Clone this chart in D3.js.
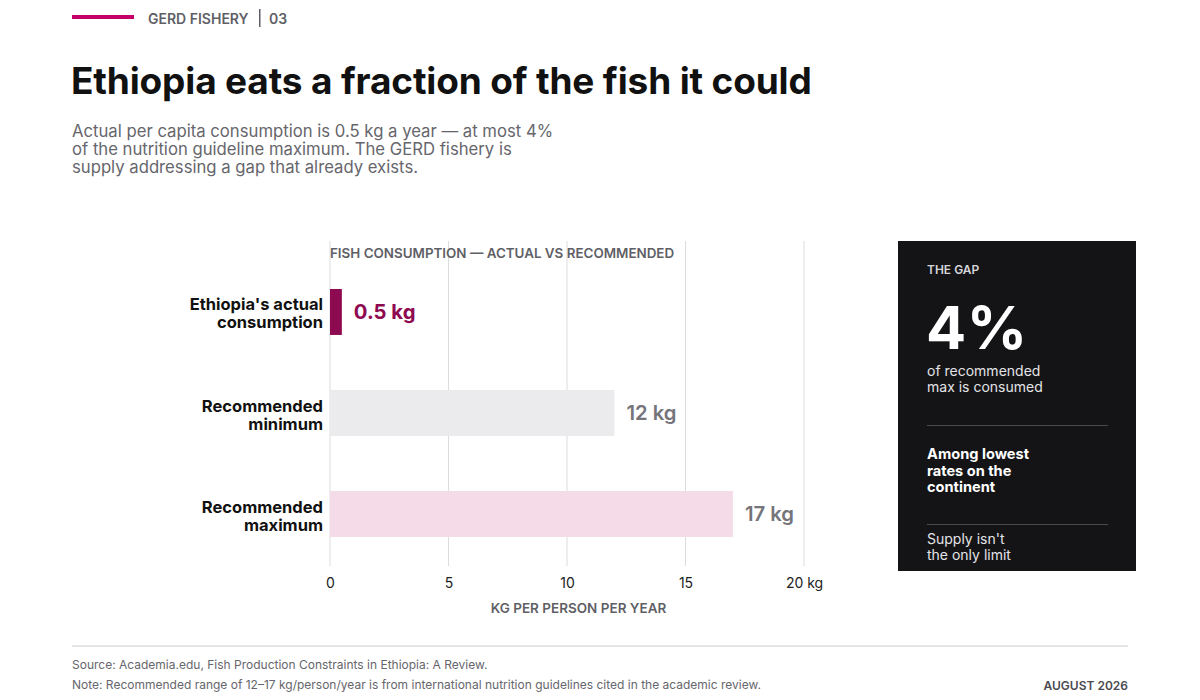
<!DOCTYPE html>
<html><head><meta charset="utf-8">
<script src="https://cdn.jsdelivr.net/npm/d3@7"></script>
<style>
html,body{margin:0;padding:0;background:#fff;}
svg{display:block;font-family:Inter,"Noto Sans",sans-serif;}
</style></head>
<body>
<svg id="c" width="1200" height="700"></svg>
<script>
const categories = [["Ethiopia's actual","consumption"],["Recommended","minimum"],["Recommended","maximum"]];
const values = [0.5, 12, 17];
const valueLabels = ["0.5 kg","12 kg","17 kg"];
const tickValues = [0, 5, 10, 15, 20];
const tickLabels = ["0","5","10","15","20 kg"];
const barColors = ["#8e0a50","#ebebed","#f4dbe7"];
const labelColors = ["#8e0a50","#74747a","#74747a"];

const svg = d3.select("#c");

// Header
svg.append("rect").attr("x",72).attr("y",15).attr("width",62).attr("height",4).attr("fill","#c4006a");
svg.append("text").attr("x",148).attr("y",24).attr("font-size",14).attr("font-weight",600).attr("fill","#5f5f66")
  .text("GERD FISHERY");
svg.append("rect").attr("x",259).attr("y",9).attr("width",1.5).attr("height",18).attr("fill","#5f5f66");
svg.append("text").attr("x",269).attr("y",24).attr("font-size",14).attr("font-weight",600).attr("fill","#5f5f66").text("03");

svg.append("text").attr("x",71).attr("y",94).attr("font-size",37).attr("font-weight",700).attr("fill","#111")
  .attr("letter-spacing","-0.15").text("Ethiopia eats a fraction of the fish it could");

const sub = ["Actual per capita consumption is 0.5 kg a year — at most 4%","of the nutrition guideline maximum. The GERD fishery is","supply addressing a gap that already exists."];
svg.append("g").selectAll("text").data(sub).join("text")
  .attr("x",72).attr("y",(d,i)=>137+i*17.8).attr("font-size",16.7).attr("fill","#66666c").text(d=>d);

// Chart
const x = d3.scaleLinear().domain([0,20]).range([330,804]);
const y = d3.scaleBand().domain(d3.range(values.length)).range([241,585]).paddingInner(0.545).paddingOuter(0.475);
const gridTop = 241, gridBottom = 566;

svg.append("g").selectAll("line").data(tickValues).join("line")
  .attr("x1",d=>x(d)).attr("x2",d=>x(d)).attr("y1",gridTop).attr("y2",gridBottom)
  .attr("stroke","#dcdcde").attr("stroke-width",1);

svg.append("text").attr("x",330).attr("y",258).attr("font-size",13.4).attr("font-weight",600).attr("fill","#5f5f66")
  .text("FISH CONSUMPTION — ACTUAL VS RECOMMENDED");

svg.append("g").selectAll("rect").data(values).join("rect")
  .attr("x",x(0)).attr("y",(d,i)=>y(i)).attr("width",d=>x(d)-x(0)).attr("height",y.bandwidth())
  .attr("fill",(d,i)=>barColors[i]);

svg.append("g").selectAll("text").data(values).join("text")
  .attr("x",d=>x(d)+12).attr("y",(d,i)=>y(i)+y.bandwidth()/2+7).attr("font-size",20.3)
  .attr("font-weight",(d,i)=>i===0?700:600).attr("fill",(d,i)=>labelColors[i]).text((d,i)=>valueLabels[i]);

const cat = svg.append("g").selectAll("text").data(categories).join("text")
  .attr("text-anchor","end").attr("font-size",16.5).attr("font-weight",700).attr("fill","#111");
cat.each(function(d,i){
  const t = d3.select(this);
  d.forEach((line,j)=>{
    t.append("tspan").attr("x",323).attr("y",y(i)+y.bandwidth()/2 - 1.5 + j*18).text(line);
  });
});

const axis = d3.axisBottom(x).tickValues(tickValues).tickSize(0).tickPadding(0).tickFormat((d,i)=>tickLabels[i]);
const ag = svg.append("g").attr("transform",`translate(0,${588})`).call(axis);
ag.select(".domain").remove();
ag.selectAll("text").attr("font-size",14).attr("fill","#222").attr("font-family","Inter,'Noto Sans',sans-serif").attr("dy",0);

svg.append("text").attr("x",578.5).attr("y",613).attr("text-anchor","middle").attr("font-size",13.5).attr("font-weight",600)
  .attr("fill","#5f5f66").text("KG PER PERSON PER YEAR");

// Dark panel
const px = 898, py = 241;
svg.append("rect").attr("x",px).attr("y",py).attr("width",238).attr("height",330).attr("fill","#141416");
svg.append("text").attr("x",927).attr("y",274).attr("font-size",12).attr("font-weight",600).attr("fill","#d6d6da").text("THE GAP");
svg.append("text").attr("x",926).attr("y",348.5).attr("font-size",59.5).attr("font-weight",700).attr("letter-spacing","0.5").attr("fill","#fff").text("4%");
svg.append("g").selectAll("text").data(["of recommended","max is consumed"]).join("text")
  .attr("x",927).attr("y",(d,i)=>376+i*16).attr("font-size",14).attr("fill","#e4e4e8").text(d=>d);
svg.append("line").attr("x1",927).attr("x2",1108).attr("y1",425.5).attr("y2",425.5).attr("stroke","#4a4a4f");
svg.append("g").selectAll("text").data(["Among lowest","rates on the","continent"]).join("text")
  .attr("x",927).attr("y",(d,i)=>459+i*16.5).attr("font-size",14.6).attr("font-weight",700).attr("fill","#fff").text(d=>d);
svg.append("line").attr("x1",927).attr("x2",1108).attr("y1",524.5).attr("y2",524.5).attr("stroke","#4a4a4f");
svg.append("g").selectAll("text").data(["Supply isn't","the only limit"]).join("text")
  .attr("x",927).attr("y",(d,i)=>544+i*16).attr("font-size",14).attr("fill","#e4e4e8").text(d=>d);

// Footer
svg.append("line").attr("x1",72).attr("x2",1128).attr("y1",646).attr("y2",646).attr("stroke","#dcdcde").attr("stroke-width",1.5);
svg.append("text").attr("x",72).attr("y",669).attr("font-size",12).attr("fill","#66666c")
  .text("Source: Academia.edu, Fish Production Constraints in Ethiopia: A Review.");
svg.append("text").attr("x",72).attr("y",689).attr("font-size",12).attr("fill","#66666c")
  .text("Note: Recommended range of 12–17 kg/person/year is from international nutrition guidelines cited in the academic review.");
svg.append("text").attr("x",1128).attr("y",690).attr("text-anchor","end").attr("font-size",12).attr("font-weight",600)
  .attr("fill","#4a4a50").text("AUGUST 2026");
</script>
</body></html>
